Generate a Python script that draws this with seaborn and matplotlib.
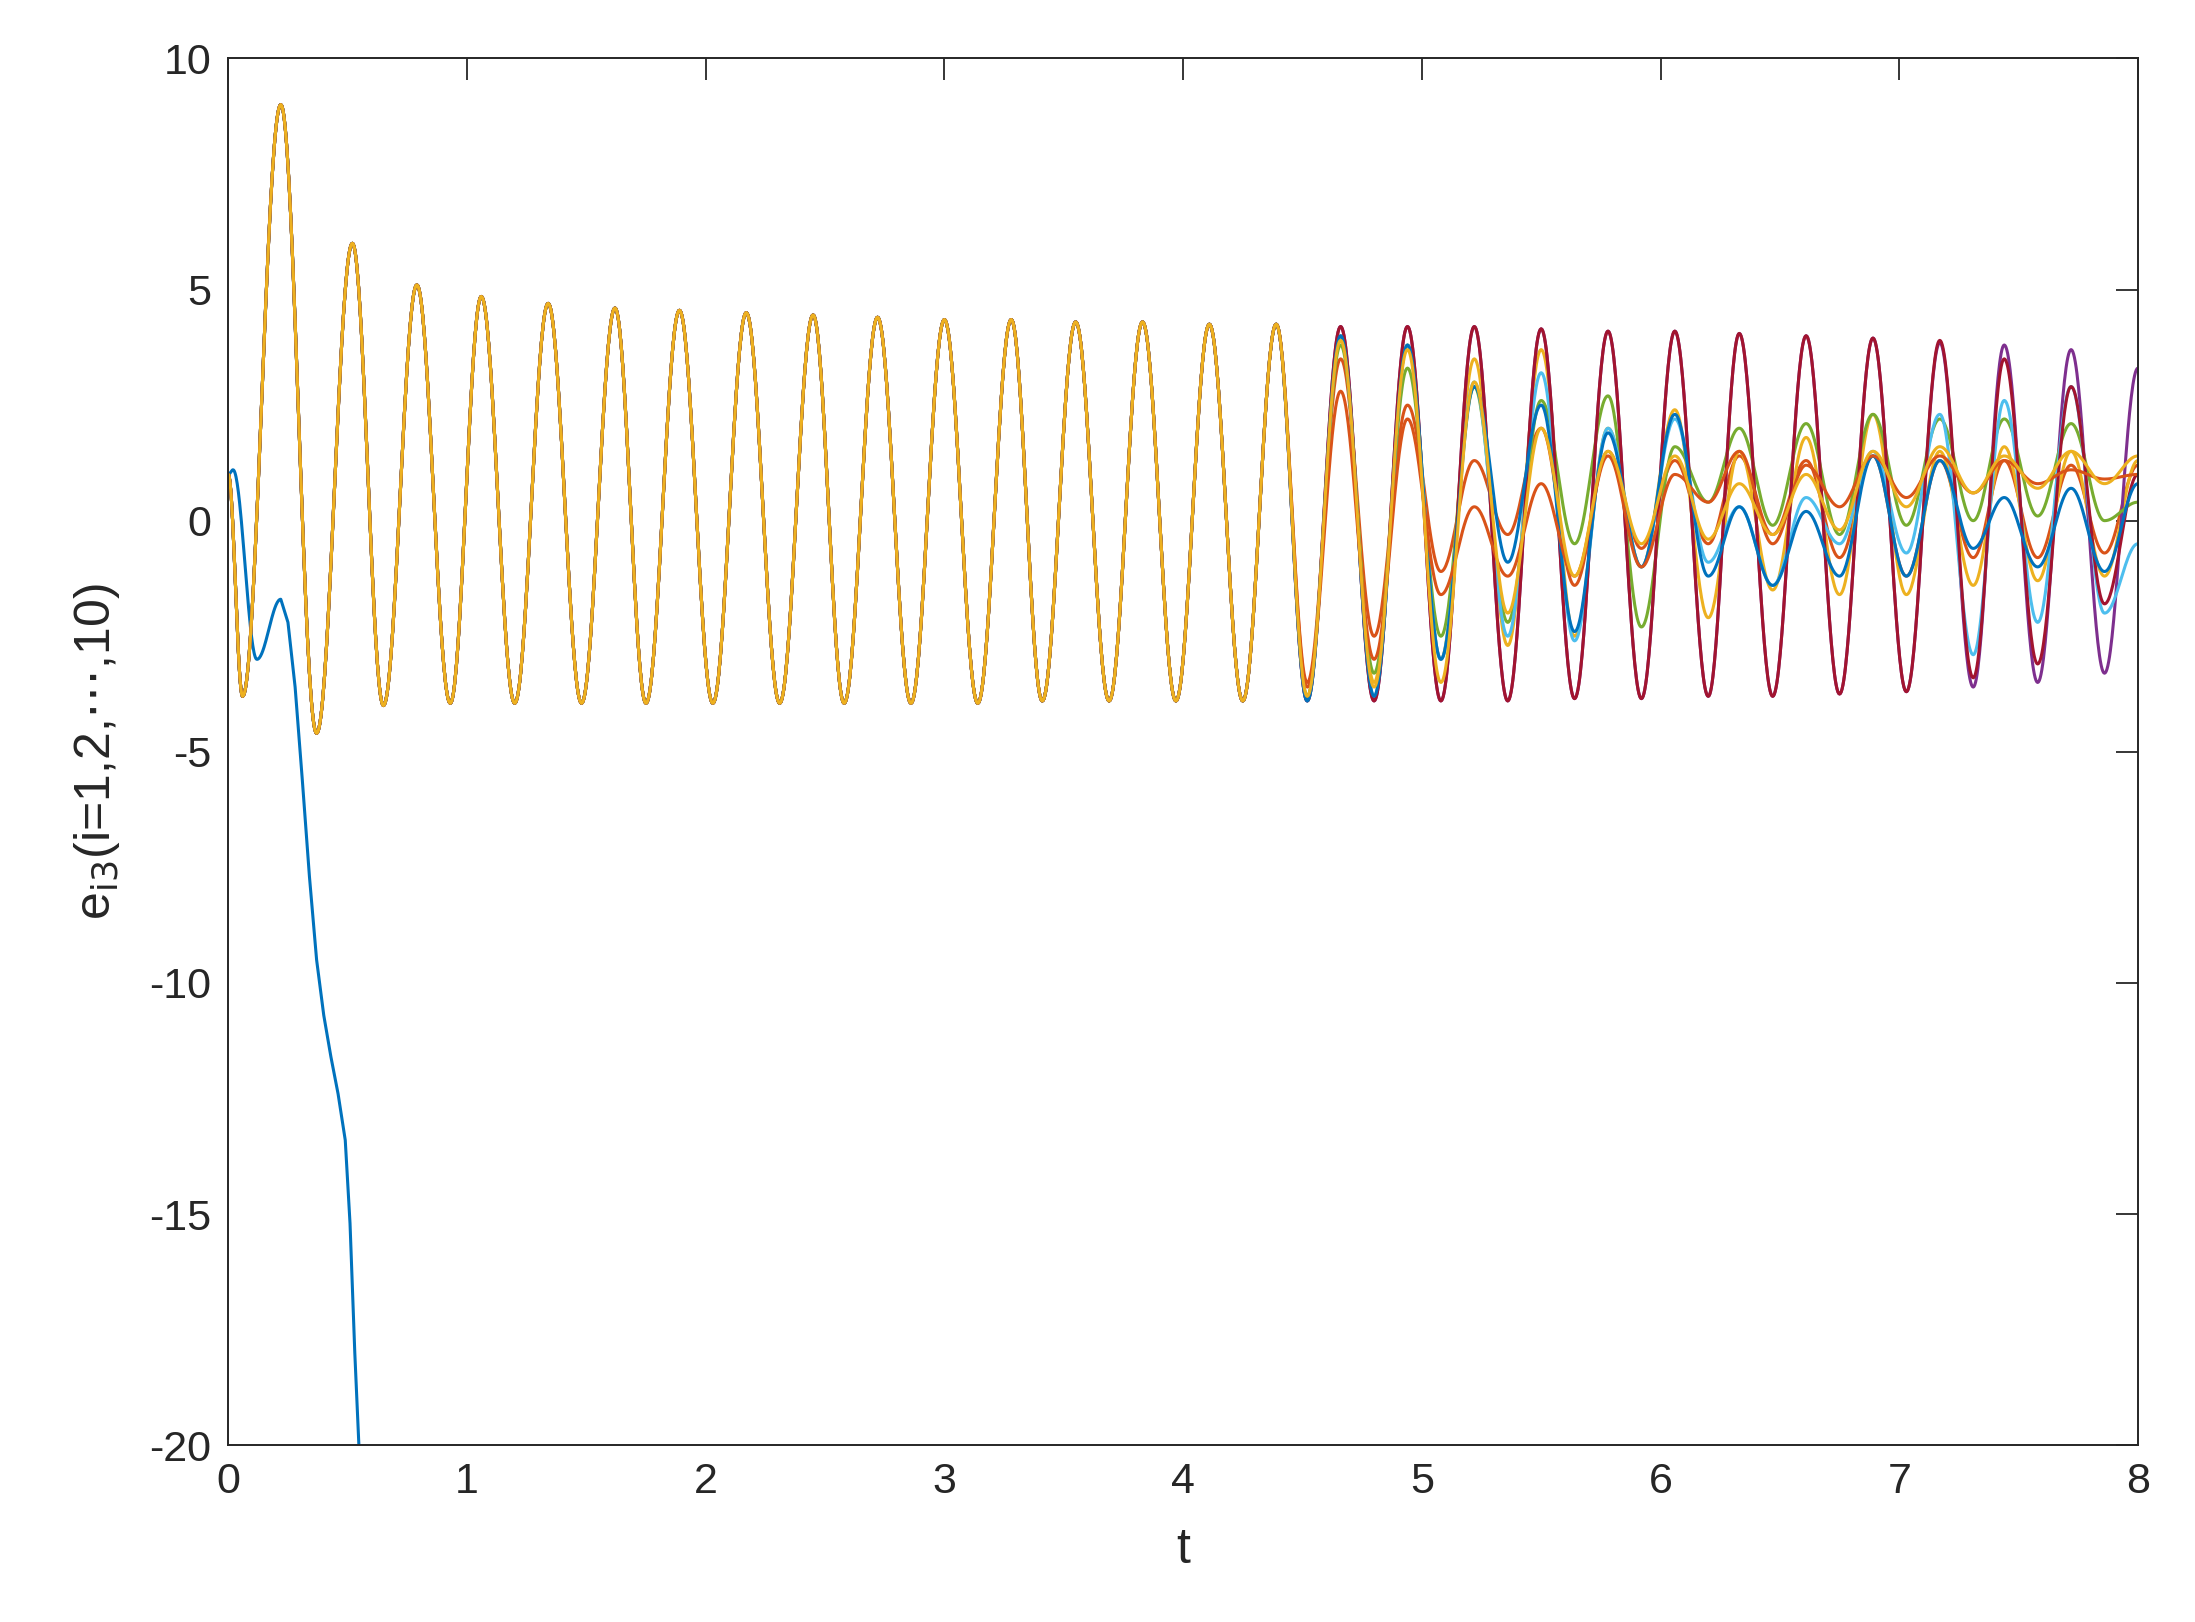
import numpy as np
import pandas as pd
import matplotlib
matplotlib.use("Agg")
import matplotlib.pyplot as plt
import seaborn as sns

# shared extrema (all series except the diverging blue one) up to t~4.4
head_t = [0.0, 0.06, 0.22, 0.37, 0.52, 0.65, 0.79, 0.93, 1.06, 1.2, 1.34, 1.48, 1.62, 1.75, 1.89,
          2.03, 2.17, 2.31, 2.45, 2.58, 2.72, 2.86, 3.0, 3.14, 3.28, 3.41, 3.55, 3.69, 3.83,
          3.97, 4.11, 4.25, 4.39]
head_v = [1.0, -3.8, 9.0, -4.6, 6.0, -4.0, 5.1, -3.95, 4.85, -3.95, 4.7, -3.95, 4.6, -3.95, 4.55,
          -3.95, 4.5, -3.95, 4.45, -3.95, 4.4, -3.95, 4.35, -3.95, 4.35, -3.9, 4.3, -3.9, 4.3,
          -3.9, 4.25, -3.9, 4.25]

# extrema after t~4.5, per series
tail_t = [4.52, 4.66, 4.80, 4.94, 5.08, 5.22, 5.36, 5.50, 5.64, 5.78, 5.92, 6.06, 6.20, 6.33,
          6.47, 6.61, 6.75, 6.89, 7.03, 7.17, 7.31, 7.44, 7.58, 7.72, 7.86, 8.0]
tail_orange1 = [-3.5, 3.5, -2.5, 2.5, -1.1, 1.3, -0.3, 2.0, -1.4, 1.5, -0.6, 1.3, -0.5, 1.4,
                -0.3, 1.3, -0.8, 1.4, -1.2, 1.3, -0.8, 1.3, -0.8, 1.2, -0.7, 1.2]
tail_yellow1 = [-3.8, 4.0, -3.5, 3.8, -3.0, 3.5, -2.7, 3.7, -2.5, 2.0, -1.0, 2.4, -2.1, 1.5,
                -1.5, 1.8, -1.6, 2.3, -1.6, 1.5, -1.4, 1.6, -1.3, 1.5, -1.2, 1.3]
tail_purple = [-3.9, 4.2, -3.9, 4.2, -3.9, 4.2, -3.9, 4.15, -3.85, 4.1, -3.85, 4.1, -3.8, 4.05,
               -3.8, 4.0, -3.75, 3.95, -3.7, 3.85, -3.6, 3.8, -3.5, 3.7, -3.3, 3.3]
tail_green = [-3.8, 3.8, -3.3, 3.3, -2.5, 2.9, -2.2, 2.6, -0.5, 2.7, -2.3, 1.6, 0.4, 2.0,
              -0.1, 2.1, -0.3, 2.3, -0.1, 2.2, 0.0, 2.2, 0.1, 2.1, 0.0, 0.4]
tail_cyan = [-3.9, 4.0, -3.8, 3.8, -3.0, 3.0, -2.5, 3.2, -2.6, 2.0, -1.0, 2.2, -0.9, 0.3,
             -1.4, 0.5, -0.5, 1.5, -0.7, 2.3, -2.9, 2.6, -2.2, 2.9, -2.0, -0.5]
tail_darkred = [-3.9, 4.2, -3.9, 4.2, -3.9, 4.2, -3.9, 4.15, -3.85, 4.1, -3.85, 4.1, -3.8, 4.05,
                -3.8, 4.0, -3.75, 3.95, -3.7, 3.9, -3.4, 3.5, -3.1, 2.9, -1.8, 1.0]
tail_blue2 = [-3.9, 4.0, -3.8, 3.8, -3.0, 2.9, -0.9, 2.5, -2.4, 1.9, -1.0, 2.3, -1.2, 0.3,
              -1.4, 0.2, -1.2, 1.4, -1.2, 1.3, -0.6, 0.5, -1.0, 0.7, -1.1, 0.8]
tail_orange2 = [-3.6, 2.8, -3.0, 2.2, -1.6, 0.3, -1.2, 0.8, -1.2, 1.4, -1.0, 1.0, 0.4, 1.5,
                -0.5, 1.2, 0.3, 1.4, 0.5, 1.4, 0.6, 1.3, 0.8, 1.1, 0.9, 1.0]
tail_yellow2 = [-3.8, 3.9, -3.6, 3.7, -3.5, 3.0, -2.0, 2.0, -1.2, 1.5, -0.5, 1.4, -0.4, 0.8,
                -0.3, 1.0, -0.2, 1.5, 0.3, 1.6, 0.6, 1.4, 0.7, 1.5, 0.8, 1.4]

# first series (blue) runs away: wiggle key points, then the falling path
blue1_t = [0.0, 0.02, 0.12, 0.22]
blue1_v = [1.0, 1.1, -3.0, -1.7]
blue1_fall_t = [0.22, 0.25, 0.28, 0.31, 0.34, 0.37, 0.40, 0.43, 0.46, 0.49, 0.51, 0.53, 0.56]
blue1_fall_v = [-1.7, -2.2, -3.6, -5.6, -7.7, -9.5, -10.7, -11.6, -12.4, -13.4, -15.2, -18.0, -21.5]

colors = ["#0072BD", "#D95319", "#EDB120", "#7E2F8E", "#77AC30",
          "#4DBEEE", "#A2142F", "#0072BD", "#D95319", "#EDB120"]
tails = [None, tail_orange1, tail_yellow1, tail_purple, tail_green,
         tail_cyan, tail_darkred, tail_blue2, tail_orange2, tail_yellow2]


def smooth(tk, vk, n=40):
    # half-cosine segments between successive key points
    ts, vs = [], []
    for i in range(len(tk) - 1):
        s = np.linspace(0, 1, n, endpoint=False)
        ts.append(tk[i] + (tk[i + 1] - tk[i]) * s)
        vs.append(vk[i] + (vk[i + 1] - vk[i]) * (1 - np.cos(np.pi * s)) / 2)
    ts.append([tk[-1]]); vs.append([vk[-1]])
    return np.concatenate(ts), np.concatenate(vs)


sns.set_style("white")
plt.rcParams["font.family"] = ["Liberation Sans", "DejaVu Sans"]
plt.rcParams["axes.unicode_minus"] = False
fig = plt.figure(figsize=(21.95, 16.22), dpi=100)
ax = fig.add_axes([0.104, 0.109, 0.870, 0.855])

for k in range(10):
    if k == 0:
        a, b = smooth(blue1_t, blue1_v)
        x = np.concatenate([a, blue1_fall_t]); y = np.concatenate([b, blue1_fall_v])
    else:
        x, y = smooth(head_t + tail_t, head_v + tails[k])
    df = pd.DataFrame({"t": x, "e": y})
    sns.lineplot(data=df, x="t", y="e", ax=ax, color=colors[k], lw=2.2,
                 estimator=None, sort=False)

ax.set_xlim(0, 8)
ax.set_ylim(-20, 10)
ax.set_xticks(range(0, 9))
ax.set_yticks([-20, -15, -10, -5, 0, 5, 10])
ax.tick_params(direction="in", length=16, width=1.3, labelsize=31, colors="#262626",
               top=True, right=True, pad=12)
for s in ax.spines.values():
    s.set_linewidth(1.4)
    s.set_color("#262626")
ax.set_xlabel("t", fontsize=36, color="#262626", labelpad=18)
ax.set_ylabel(r"e$_{\mathrm{i3}}$(i=1,2,$\cdots$,10)", fontsize=36, color="#262626", labelpad=20)
fig.savefig("out.png", dpi=100)
